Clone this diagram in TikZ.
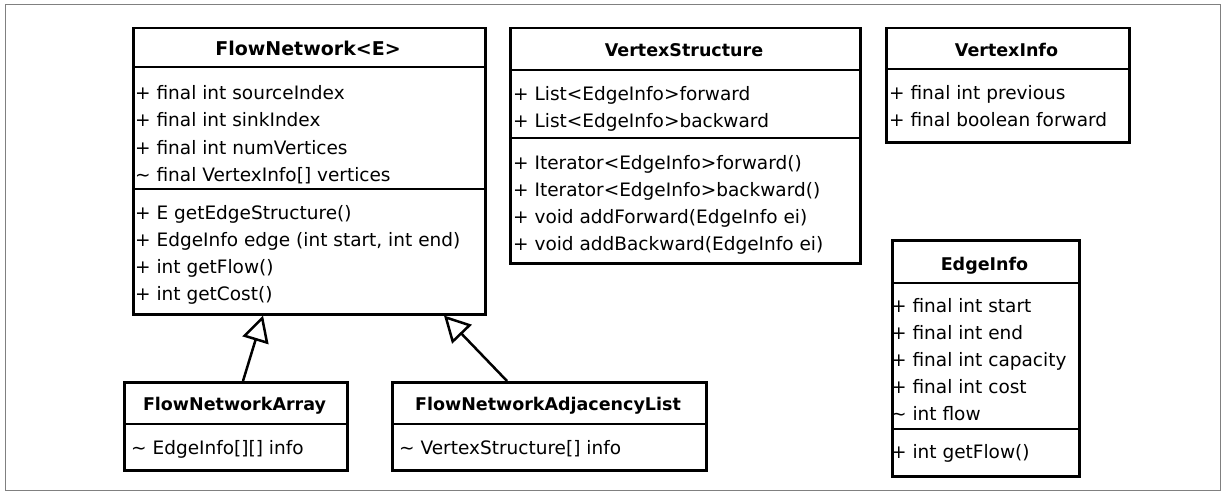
\documentclass[tikz,border=0pt]{standalone}
\usepackage{fontspec}
\setmainfont{DejaVu Sans}
\usetikzlibrary{arrows.meta,calc}
\begin{document}
\begin{tikzpicture}[x=1pt,y=-1pt,
  box/.style={draw,line width=2.5pt,rectangle,inner sep=0pt,anchor=north west},
  ttl/.style={font=\fontsize{17.5}{21}\selectfont\bfseries,inner sep=0pt,anchor=base},
  attr/.style={font=\fontsize{18.5}{22}\selectfont,inner sep=0pt,anchor=base west},
  sep/.style={line width=2.5pt},
  inherit/.style={line width=2.5pt,-{Triangle[open,length=26pt,width=27pt]}}]
\useasboundingbox[fill=white] (0,0) rectangle (1222,492);
\draw[line width=1pt,gray] (5,5) rectangle (1220,490);

% FlowNetwork<E>
\node[box,minimum width=352pt,minimum height=286pt] (fn) at (132,27) {};
\draw[sep] ($(fn.north west)+(0,40)$) -- ($(fn.north east)+(0,40)$);
\draw[sep] ($(fn.north west)+(0,162)$) -- ($(fn.north east)+(0,162)$);
\node[ttl,font=\fontsize{19}{22}\selectfont\bfseries] (fnt) at (308,56) {FlowNetwork<E>};
\node[attr] (fn1) at (135,100) {+ final int sourceIndex};
\node[attr] (fn2) at (135,127) {+ final int sinkIndex};
\node[attr] (fn3) at (135,154) {+ final int numVertices};
\node[attr] (fn4) at (135,181) {\textasciitilde{} final VertexInfo[] vertices};
\node[attr] (fn5) at (135,219) {+ E getEdgeStructure()};
\node[attr] (fn6) at (135,246) {+ EdgeInfo edge (int start, int end)};
\node[attr] (fn7) at (135,273) {+ int getFlow()};
\node[attr] (fn8) at (135,300) {+ int getCost()};

% VertexStructure
\node[box,minimum width=350pt,minimum height=235pt] (vs) at (509,27) {};
\draw[sep] ($(vs.north west)+(0,43)$) -- ($(vs.north east)+(0,43)$);
\draw[sep] ($(vs.north west)+(0,111)$) -- ($(vs.north east)+(0,111)$);
\node[ttl] (vst) at (684,57) {VertexStructure};
\node[attr] (vs1) at (513,101) {+ List<EdgeInfo>forward};
\node[attr] (vs2) at (513,128) {+ List<EdgeInfo>backward};
\node[attr] (vs3) at (513,169) {+ Iterator<EdgeInfo>forward()};
\node[attr] (vs4) at (513,196) {+ Iterator<EdgeInfo>backward()};
\node[attr] (vs5) at (513,223) {+ void addForward(EdgeInfo ei)};
\node[attr] (vs6) at (513,250) {+ void addBackward(EdgeInfo ei)};

% VertexInfo
\node[box,minimum width=243pt,minimum height=114pt] (vi) at (885,27) {};
\draw[sep] ($(vi.north west)+(0,42)$) -- ($(vi.north east)+(0,42)$);
\node[ttl] (vit) at (1006.5,57) {VertexInfo};
\node[attr] (vi1) at (889,100) {+ final int previous};
\node[attr] (vi2) at (889,127) {+ final boolean forward};

% EdgeInfo
\node[box,minimum width=187pt,minimum height=236pt] (ei) at (891,239) {};
\draw[sep] ($(ei.north west)+(0,44)$) -- ($(ei.north east)+(0,44)$);
\draw[sep] ($(ei.north west)+(0,190)$) -- ($(ei.north east)+(0,190)$);
\node[ttl] (eit) at (984.5,270) {EdgeInfo};
\node[attr] (ei1) at (891,312) {+ final int start};
\node[attr] (ei2) at (891,339) {+ final int end};
\node[attr] (ei3) at (891,366) {+ final int capacity};
\node[attr] (ei4) at (891,393) {+ final int cost};
\node[attr] (ei5) at (891,420) {\textasciitilde{} int flow};
\node[attr] (ei6) at (891,458) {+ int getFlow()};

% FlowNetworkArray
\node[box,minimum width=223pt,minimum height=88pt] (fna) at (123,381) {};
\draw[sep] ($(fna.north west)+(0,43)$) -- ($(fna.north east)+(0,43)$);
\node[ttl] (fnat) at (234.5,410) {FlowNetworkArray};
\node[attr] (fna1) at (131,454) {\textasciitilde{} EdgeInfo[][] info};

% FlowNetworkAdjacencyList
\node[box,minimum width=314pt,minimum height=88pt] (fnal) at (391,381) {};
\draw[sep] ($(fnal.north west)+(0,43)$) -- ($(fnal.north east)+(0,43)$);
\node[ttl] (fnalt) at (548,410) {FlowNetworkAdjacencyList};
\node[attr] (fnal1) at (399,454) {\textasciitilde{} VertexStructure[] info};

% inheritance
\draw[inherit] ($(fna.north west)+(120,0)$) -- ($(fn.south west)+(131,0)$);
\draw[inherit] ($(fnal.north west)+(116,0)$) -- ($(fn.south west)+(312,0)$);
\end{tikzpicture}
\end{document}
